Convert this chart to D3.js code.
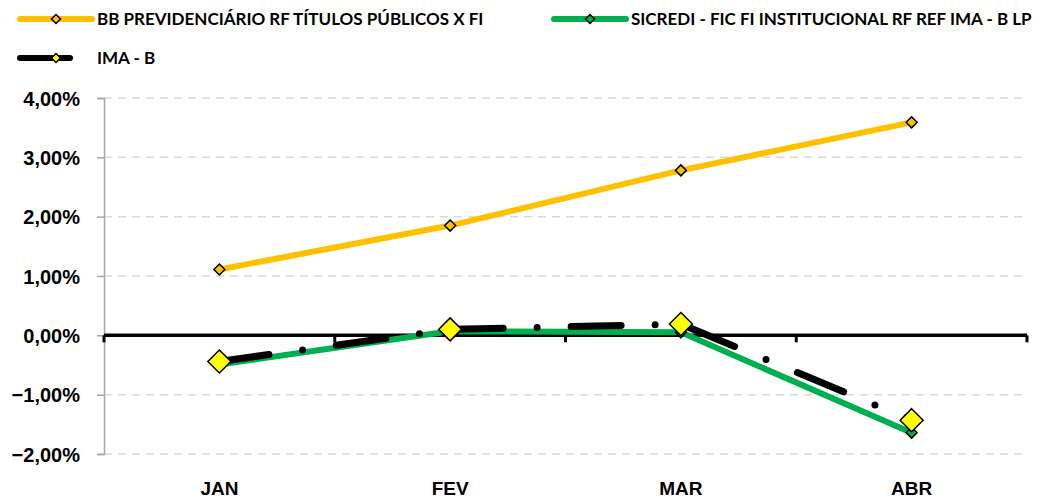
<!DOCTYPE html>
<html>
<head>
<meta charset="utf-8">
<script src="https://cdn.jsdelivr.net/npm/d3@7"></script>
<style>
  body { margin: 0; background: #fff; }
  text { font-family: Lato, "Open Sans", sans-serif; font-weight: bold; fill: #000; }
  .axis-label { font-family: "Liberation Sans", Arial, sans-serif; }
</style>
</head>
<body>
<div id="chart"></div>
<script>
// data
const months = ["JAN", "FEV", "MAR", "ABR"];
const bbPrev = [0.0111, 0.0185, 0.0278, 0.0359];
const sicredi = [-0.0049, 0.0007, 0.0005, -0.0164];
const imaB = [-0.0044, 0.0010, 0.0019, -0.0143];
const yTicks = [-0.02, -0.01, 0, 0.01, 0.02, 0.03, 0.04];

const series = [
  {name: "BB PREVIDENCIÁRIO RF TÍTULOS PÚBLICOS X FI", values: bbPrev, color: "#FFC000",
   marker: "#FFC000", msize: 11, width: 6, dash: null},
  {name: "SICREDI - FIC FI INSTITUCIONAL RF REF IMA - B LP", values: sicredi, color: "#00B050",
   marker: "#00B050", msize: 11, width: 6, dash: null},
  {name: "IMA - B", values: imaB, color: "#000000",
   marker: "#FFFF00", msize: 23, width: 7, dash: "50 34 0 34"}
];

const width = 1039, height = 498;
const margin = {top: 98, right: 12, bottom: 44, left: 104};

const svg = d3.select("#chart")
  .append("svg")
  .attr("width", width)
  .attr("height", height);

const xScale = d3.scaleBand()
  .domain(months)
  .range([margin.left, width - margin.right])
  .padding(0);

const yScale = d3.scaleLinear()
  .domain([-0.02, 0.04])
  .range([height - margin.bottom, margin.top]);

const ptBR = d3.formatLocale({decimal: ",", thousands: ".", grouping: [3], currency: ["R$", ""]});
const pct = ptBR.format(".2%");

// gridlines
svg.append("g")
  .selectAll("line")
  .data(yTicks.filter(d => d !== 0))
  .join("line")
  .attr("x1", margin.left)
  .attr("x2", width - margin.right)
  .attr("y1", d => yScale(d))
  .attr("y2", d => yScale(d))
  .attr("stroke", "#d9d9d9")
  .attr("stroke-width", 1.5)
  .attr("stroke-dasharray", "8 6");

// y axis
const yAxis = d3.axisLeft(yScale).tickValues(yTicks).tickFormat(pct).tickSize(7).tickPadding(17);
const yAxisGroup = svg.append("g")
  .attr("transform", `translate(${margin.left},0)`)
  .call(yAxis);
yAxisGroup.select(".domain").attr("stroke", "#a6a6a6").attr("stroke-width", 1.5);
yAxisGroup.selectAll(".tick line").attr("stroke", "#a6a6a6").attr("stroke-width", 1.5);
yAxisGroup.selectAll(".tick text")
  .attr("class", "axis-label")
  .attr("font-size", 20)
  .attr("dy", "0.36em")
  .attr("fill", "#000");

// x axis on zero line
const x0 = yScale(0);
svg.append("line")
  .attr("x1", margin.left)
  .attr("x2", width - margin.right)
  .attr("y1", x0)
  .attr("y2", x0)
  .attr("stroke", "#000")
  .attr("stroke-width", 3.5);

const bounds = months.map(d => xScale(d)).concat([xScale.range()[1]]);
svg.append("g")
  .selectAll("line")
  .data(bounds)
  .join("line")
  .attr("x1", d => d)
  .attr("x2", d => d)
  .attr("y1", x0)
  .attr("y2", x0 + 7)
  .attr("stroke", "#000")
  .attr("stroke-width", 3);

// month labels at bottom
const xAxis = d3.axisBottom(xScale).tickSize(0).tickPadding(0);
const xAxisGroup = svg.append("g")
  .attr("transform", `translate(0, ${height - 3})`)
  .call(xAxis);
xAxisGroup.select(".domain").remove();
xAxisGroup.selectAll(".tick text")
  .attr("class", "axis-label")
  .attr("font-size", 19)
  .attr("dy", 0)
  .attr("y", 0)
  .attr("fill", "#000");

const cx = d => xScale(d) + xScale.bandwidth() / 2;

const line = d3.line()
  .x((d, i) => cx(months[i]))
  .y(d => yScale(d));

function diamond(s) {
  const h = s / 2;
  return `M0,${-h}L${h},0L0,${h}L${-h},0Z`;
}

// lines
svg.selectAll(".line")
  .data(series)
  .join("path")
  .attr("class", "line")
  .attr("fill", "none")
  .attr("stroke", d => d.color)
  .attr("stroke-width", d => d.width)
  .attr("stroke-linecap", "round")
  .attr("stroke-linejoin", "round")
  .attr("stroke-dasharray", d => d.dash)
  .attr("d", d => line(d.values));

// markers
series.forEach(function (s) {
  svg.append("g")
    .selectAll("path")
    .data(s.values)
    .join("path")
    .attr("transform", (d, i) => `translate(${cx(months[i])},${yScale(d)})`)
    .attr("d", diamond(s.msize))
    .attr("fill", s.marker)
    .attr("stroke", "#000")
    .attr("stroke-width", 1.5);
});

// legend
const legendPos = [
  {x: 20, y: 19, len: 72},
  {x: 554, y: 19, len: 72},
  {x: 20, y: 58, len: 72}
];
const legend = svg.selectAll(".legend")
  .data(series)
  .join("g")
  .attr("class", "legend")
  .attr("transform", (d, i) => `translate(${legendPos[i].x},${legendPos[i].y})`);

legend.append("line")
  .attr("x1", 0)
  .attr("x2", (d, i) => legendPos[i].len)
  .attr("stroke", d => d.color)
  .attr("stroke-width", 6)
  .attr("stroke-linecap", "round")
  .attr("stroke-dasharray", d => d.dash);

legend.append("path")
  .attr("transform", "translate(36,0)")
  .attr("d", diamond(9))
  .attr("fill", d => d.marker)
  .attr("stroke", "#000")
  .attr("stroke-width", 1.5);

legend.append("text")
  .attr("x", 77)
  .attr("dy", "0.36em")
  .attr("font-size", 17)
  .text(d => d.name);
</script>
</body>
</html>
